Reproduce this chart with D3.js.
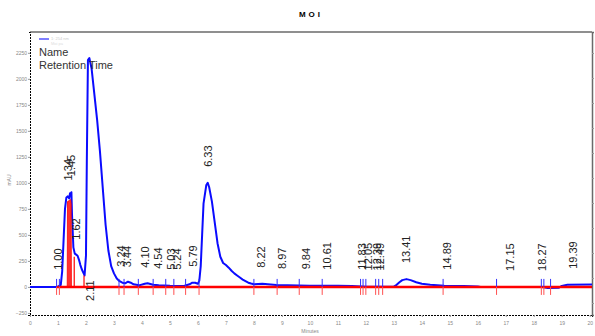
<!DOCTYPE html>
<html>
<head>
<meta charset="utf-8">
<script src="https://cdn.jsdelivr.net/npm/d3@7/dist/d3.min.js"></script>
<style>
  body { margin: 0; background: #fff; }
  svg { display: block; font-family: 'Liberation Sans', Arial, sans-serif; }
</style>
</head>
<body>
<svg id="chart" width="595" height="336"></svg>
<script>
// chromatogram trace (minutes, mAU)
const traceTime = [0, 0.9, 1.0, 1.1, 1.15, 1.2, 1.25, 1.3, 1.35, 1.4, 1.43, 1.45, 1.48, 1.5, 1.55, 1.6, 1.65, 1.7,
  1.75, 1.8, 1.85, 1.9, 1.95, 2.0, 2.03, 2.07, 2.12, 2.2, 2.3, 2.4, 2.5, 2.6, 2.7, 2.8, 2.9, 3.0, 3.1, 3.2,
  3.3, 3.4, 3.5, 3.6, 3.7, 3.9, 4.1, 4.2, 4.4, 4.6, 5.0, 5.5, 5.7, 5.8, 5.9, 6.0, 6.05, 6.1, 6.15, 6.2, 6.3,
  6.35, 6.4, 6.5, 6.6, 6.7, 6.8, 6.9, 7.0, 7.1, 7.2, 7.3, 7.4, 7.5, 7.6, 7.7, 7.8, 7.9, 8.0, 8.3, 8.5, 8.8,
  9.2, 10, 11, 11.5, 12, 13, 13.1, 13.2, 13.3, 13.45, 13.6, 13.8, 14.0, 14.3, 14.8, 15.5, 16, 16.1, 18.3,
  18.5, 18.9, 19.0, 19.2, 20.08];
const traceValue = [0, 0, 2, 20, 150, 450, 750, 860, 870, 850, 900, 880, 910, 700, 380, 320, 310, 300,
  260, 210, 170, 140, 110, 300, 1200, 2180, 2200, 2100, 1850, 1600, 1300, 950, 600, 350, 200, 130, 80, 55,
  40, 35, 50, 40, 25, 15, 30, 35, 20, 15, 10, 8, 25, 40, 40, 30, 60, 200, 500, 800, 980,
  1000, 960, 820, 620, 420, 290, 230, 210, 185, 155, 130, 110, 90, 70, 55, 40, 32, 25, 30, 25, 18,
  15, 12, 10, 8, 2, 3, 20, 45, 65, 75, 65, 45, 30, 20, 12, 8, 5, 0, 0,
  -10, -8, 10, 20, 22];

// integrated area (red shading) and drop lines
const fillTime = [1.33, 1.34, 1.4, 1.45, 1.47, 1.48];
const fillValue = [0, 820, 830, 840, 800, 0];
const dropTime = [1.58, 1.93];
const dropValue = [290, 110];

// peak boundaries
const boundTime = [0.95, 1.05, 3.18, 3.36, 3.87, 4.4, 4.85, 5.14, 5.56, 6.04, 8.0, 8.83, 9.62, 10.44,
  11.81, 11.9, 12.0, 12.35, 12.46, 12.6, 14.76, 16.67, 18.27, 18.36, 18.6];

// peak labels (retention time, apex height)
const peakLabel = ['1.00', '1.34', '1.45', '1.62', '2.11', '3.24', '3.44', '4.10', '4.54', '5.03', '5.24',
  '5.79', '6.33', '8.22', '8.97', '9.84', '10.61', '11.83', '12.05', '12.39', '12.49', '13.41', '14.89',
  '17.15', '18.27', '19.39'];
const peakHeight = [10, 870, 910, 300, 2200, 40, 35, 30, 20, 10, 10, 40, 1000, 30, 18, 15, 12, 10, 5, 5, 5,
  75, 12, 0, 0, 20];

const xTicks = d3.range(0, 21);
const yTicks = d3.range(-250, 2251, 250);
const rightTicks = d3.range(0, 11);

const svg = d3.select('#chart');
const plot = { left: 30, right: 592, top: 32, bottom: 315 };

const x = d3.scaleLinear().domain([0, 20.08]).range([plot.left, plot.right]);
const y = d3.scaleLinear().domain([-270, 2450]).range([plot.bottom, plot.top]);
const yRight = d3.scaleLinear().domain([-0.48, 10.84]).range([plot.bottom, plot.top]);

// title
svg.append('text')
  .attr('x', 311).attr('y', 17)
  .attr('text-anchor', 'middle')
  .style('font-size', '8px').style('font-weight', 'bold')
  .style('letter-spacing', '3px')
  .text('MOI');

// frame: top + right solid, left + bottom dotted
svg.append('line')
  .attr('x1', plot.left).attr('x2', plot.right).attr('y1', plot.top).attr('y2', plot.top)
  .attr('stroke', '#6a6a6a').attr('stroke-width', 1.5);

svg.append('g')
  .attr('transform', 'translate(0,' + plot.bottom + ')')
  .call(d3.axisBottom(x).tickValues(xTicks).tickSize(2).tickFormat(d3.format('d')))
  .call((g) => g.select('.domain').attr('stroke', '#000').attr('stroke-dasharray', '2,1'))
  .call((g) => g.selectAll('.tick line').attr('stroke', '#999'))
  .call((g) => g.selectAll('.tick text').attr('fill', '#888').attr('dy', '0.9em')
    .style('font-size', '5px'));

svg.append('g')
  .attr('transform', 'translate(' + plot.left + ',0)')
  .call(d3.axisLeft(y).tickValues(yTicks).tickSize(2).tickFormat(d3.format('d')))
  .call((g) => g.select('.domain').attr('stroke', '#000').attr('stroke-dasharray', '2,1'))
  .call((g) => g.selectAll('.tick line').attr('stroke', '#999'))
  .call((g) => g.selectAll('.tick text').attr('fill', '#888').attr('x', -3)
    .style('font-size', '5px'));

// right axis: labels fall outside the picture in the original, so ticks only
svg.append('g')
  .attr('transform', 'translate(' + plot.right + ',0)')
  .call(d3.axisRight(yRight).tickValues(rightTicks).tickSize(2).tickFormat(''))
  .call((g) => g.select('.domain').attr('stroke', '#6a6a6a').attr('stroke-width', 1.5))
  .call((g) => g.selectAll('.tick line').attr('stroke', '#999'));

// axis titles
svg.append('text')
  .attr('transform', 'translate(11,180) rotate(-90)')
  .attr('text-anchor', 'middle')
  .attr('fill', '#888').style('font-size', '5px')
  .text('mAU');

svg.append('text')
  .attr('x', 310).attr('y', 333)
  .attr('text-anchor', 'middle')
  .attr('fill', '#888').style('font-size', '5px')
  .text('Minutes');

// trace
const trace = traceTime.map((t, i) => ({ t: t, v: traceValue[i] }));
const line = d3.line().x((d) => x(d.t)).y((d) => y(d.v));

svg.append('path')
  .datum(trace)
  .attr('fill', 'none')
  .attr('stroke', '#0b0bff')
  .attr('stroke-width', 2)
  .attr('stroke-linejoin', 'round')
  .attr('d', line);

// red shading
const fill = fillTime.map((t, i) => ({ t: t, v: fillValue[i] }));
svg.append('path')
  .datum(fill)
  .attr('fill', '#ff3030')
  .attr('stroke', '#ff0000')
  .attr('stroke-width', 0.8)
  .attr('d', d3.area().x((d) => x(d.t)).y0(y(0)).y1((d) => y(d.v)));

svg.selectAll('.drop')
  .data(dropTime)
  .enter()
  .append('line')
  .attr('class', 'drop')
  .attr('x1', (d) => x(d)).attr('x2', (d) => x(d))
  .attr('y1', y(0)).attr('y2', (d, i) => y(dropValue[i]))
  .attr('stroke', '#ff0000').attr('stroke-width', 1.2);

// baseline
svg.append('line')
  .attr('x1', x(0.95)).attr('x2', x(20.08))
  .attr('y1', y(0)).attr('y2', y(0))
  .attr('stroke', '#ff0000').attr('stroke-width', 2.5);

// boundary ticks
svg.selectAll('.bt-blue')
  .data(boundTime)
  .enter()
  .append('line')
  .attr('x1', (d) => x(d)).attr('x2', (d) => x(d))
  .attr('y1', y(0) - 8).attr('y2', y(0))
  .attr('stroke', '#3030ff').attr('stroke-width', 1);

svg.selectAll('.bt-red')
  .data(boundTime)
  .enter()
  .append('line')
  .attr('x1', (d) => x(d)).attr('x2', (d) => x(d))
  .attr('y1', y(0)).attr('y2', y(0) + 8)
  .attr('stroke', '#ff5050').attr('stroke-width', 1);

// peak labels
svg.selectAll('.peak')
  .data(peakLabel)
  .enter()
  .append('text')
  .attr('class', 'peak')
  .attr('transform', (d, i) => {
    let yy = y(peakHeight[i]) - 16;
    if (yy - 22 < plot.top) yy = y(0) + 14;
    return 'translate(' + (x(+d) + 0.5) + ',' + yy + ') rotate(-90)';
  })
  .attr('dominant-baseline', 'central')
  .attr('fill', '#222')
  .style('font-size', '11px')
  .text((d) => d);

// legend
svg.append('line')
  .attr('x1', 39).attr('x2', 49).attr('y1', 39).attr('y2', 39)
  .attr('stroke', '#5555ff').attr('stroke-width', 1.5);
svg.append('text')
  .attr('x', 51).attr('y', 40)
  .attr('fill', '#ccc').style('font-size', '4px')
  .text('1: 254 nm');
svg.append('text')
  .attr('x', 51).attr('y', 45)
  .attr('fill', '#ddd').style('font-size', '4px')
  .text('Moi pa');

svg.append('text')
  .attr('x', 39).attr('y', 56)
  .attr('fill', '#333').style('font-size', '11px')
  .text('Name');
svg.append('text')
  .attr('x', 39).attr('y', 68.5)
  .attr('fill', '#333').style('font-size', '11px')
  .text('Retention Time');
</script>
</body>
</html>
